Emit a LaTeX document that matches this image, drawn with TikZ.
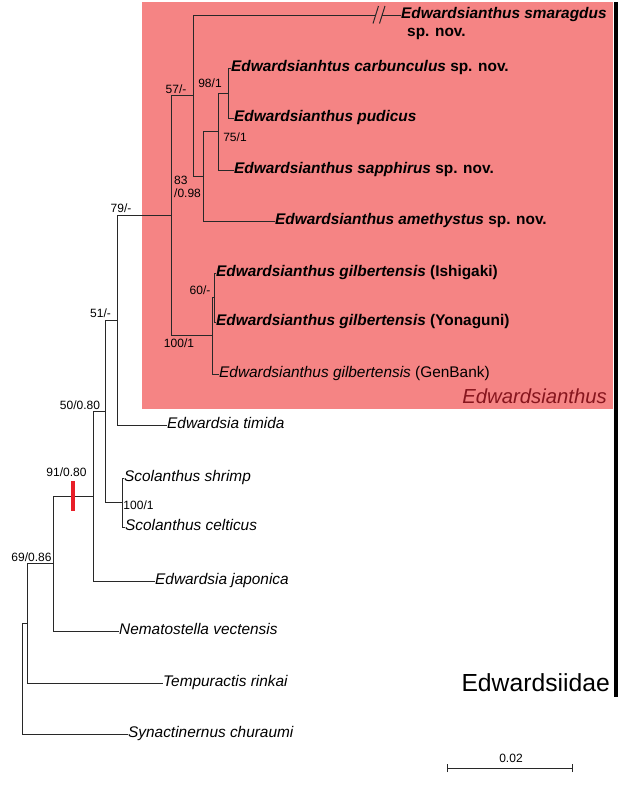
\documentclass[tikz,border=0pt]{standalone}
\usepackage{fontspec}
\setmainfont{Liberation Sans}
\definecolor{cladepink}{RGB}{245,132,132}
\definecolor{cladered}{RGB}{135,22,30}
\definecolor{branch}{RGB}{40,40,40}
\definecolor{synred}{RGB}{232,30,40}
\begin{document}
\begin{tikzpicture}[x=1pt,y=-1pt,
  br/.style={draw=branch,line width=1pt},
  leaf/.style={anchor=west,inner sep=0pt,text height=11pt,text depth=3.3pt,font=\fontsize{15.4}{17}\selectfont\itshape},
  newsp/.style={anchor=west,inner sep=0pt,text height=11pt,text depth=3.3pt,font=\fontsize{15.4}{17}\selectfont\bfseries},
  supp/.style={inner sep=0pt,text height=8.6pt,text depth=0pt,font=\fontsize{12}{14}\selectfont},
]
\useasboundingbox (0,0) rectangle (634,796);
\fill[white] (0,0) rectangle (634,796);
% clade box and bar
\fill[cladepink] (142,2) rectangle (613,409);
\fill[black] (613.5,2) rectangle (617.5,697);

% internal nodes
\coordinate (n98) at (228,93);
\coordinate (n75) at (218,131.5);
\coordinate (n83) at (203,176.25);
\coordinate (n57) at (193,95.6);
\coordinate (n60) at (214,297.5);
\coordinate (n100) at (212.5,335.75);
\coordinate (n79) at (171,215.7);
\coordinate (n51) at (117,320.3);
\coordinate (nS) at (122,502.5);
\coordinate (n50) at (105,411.4);
\coordinate (n91) at (93,496.2);
\coordinate (n69) at (53,563.6);
\coordinate (n27) at (27,623.3);
\coordinate (root) at (22,678.6);
\coordinate (brk1) at (376,15);
\coordinate (brk2) at (382,15);

% leaves
\node[newsp] (smar) at (401,15) {\itshape Edwardsianthus smaragdus};
\node[newsp] (smar2) at (407,33) {sp. nov.};
\node[newsp] (carb) at (231,68) {{\itshape Edwardsianhtus carbunculus} sp. nov.};
\node[newsp] (pud) at (234,118) {\itshape Edwardsianthus pudicus};
\node[newsp] (sapp) at (234,170) {{\itshape Edwardsianthus sapphirus} sp. nov.};
\node[newsp] (ameth) at (275,221) {{\itshape Edwardsianthus amethystus} sp. nov.};
\node[newsp] (ishi) at (216,273) {{\itshape Edwardsianthus gilbertensis} (Ishigaki)};
\node[newsp] (yona) at (216,322) {{\itshape Edwardsianthus gilbertensis} (Yonaguni)};
\node[leaf] (genb) at (219,374) {Edwardsianthus gilbertensis \upshape(GenBank)};
\node[leaf] (timi) at (167,425) {Edwardsia timida};
\node[leaf] (shri) at (124,478) {Scolanthus shrimp};
\node[leaf] (celt) at (125,527) {Scolanthus celticus};
\node[leaf] (japo) at (155,581) {Edwardsia japonica};
\node[leaf] (nema) at (119,631) {Nematostella vectensis};
\node[leaf] (temp) at (163,683) {Tempuractis rinkai};
\node[leaf] (syna) at (128,734) {Synactinernus churaumi};

% branches
\draw[br] (n57) |- (brk1);
\draw[br] (brk2) -- (smar.west);
\draw[br] ([shift={(-3,8.5)}]brk1) -- ([shift={(2.5,-9)}]brk1);
\draw[br] ([shift={(-2.5,8.5)}]brk2) -- ([shift={(3,-9)}]brk2);
\draw[br] (n98) |- (carb.west);
\draw[br] (n98) |- (pud.west);
\draw[br] (n75) |- (n98);
\draw[br] (n75) |- (sapp.west);
\draw[br] (n83) |- (n75);
\draw[br] (n83) |- (ameth.west);
\draw[br] (n57) |- (n83);
\draw[br] (n60) |- (ishi.west);
\draw[br] (n60) |- (yona.west);
\draw[br] (n100) |- (n60);
\draw[br] (n100) |- (genb.west);
\draw[br] (n79) |- (n57);
\draw[br] (n79) |- (n100);
\draw[br] (n51) |- (n79);
\draw[br] (n51) |- (timi.west);
\draw[br] (nS) |- (shri.west);
\draw[br] (nS) |- (celt.west);
\draw[br] (n50) |- (n51);
\draw[br] (n50) |- (nS);
\draw[br] (n91) |- (n50);
\draw[br] (n91) |- (japo.west);
\draw[br] (n69) |- (n91);
\draw[br] (n69) |- (nema.west);
\draw[br] (n27) |- (n69);
\draw[br] (n27) |- (temp.west);
\draw[br] (root) |- (n27);
\draw[br] (root) |- (syna.west);

% synapomorphy bar
\coordinate (rb1) at (73,481);
\coordinate (rb2) at (73,511);
\draw[synred,line width=4pt] (rb1) -- (rb2);

% support values
\node[supp] (s57) at (176,89) {57/-};
\node[supp] (s98) at (210,83) {98/1};
\node[supp] (s75) at (235,137) {75/1};
\node[supp,anchor=west] (s83a) at (174,180) {83};
\node[supp,anchor=west] (s83b) at (174,193) {/0.98};
\node[supp] (s60) at (200,290) {60/-};
\node[supp] (s100) at (179,343) {100/1};
\node[supp] (s79) at (121,208.5) {79/-};
\node[supp] (s51) at (100.5,313) {51/-};
\node[supp] (s50) at (80,405) {50/0.80};
\node[supp] (s91) at (66.5,472) {91/0.80};
\node[supp] (sS) at (138.5,505) {100/1};
\node[supp] (s69) at (31.5,557.5) {69/0.86};

% clade labels
\node[anchor=base east,inner sep=0pt,font=\fontsize{20.3}{24}\selectfont\itshape,text=cladered] (gen) at (607,403) {Edwardsianthus};
\node[anchor=base east,inner sep=0pt,font=\fontsize{24.7}{28}\selectfont] (fam) at (610,691) {Edwardsiidae};

% scale bar
\coordinate (sc1) at (447,768);
\coordinate (sc2) at (572,768);
\draw[br] (sc1) -- (sc2);
\draw[br] ([yshift=-4pt]sc1) -- ([yshift=4pt]sc1);
\draw[br] ([yshift=-4pt]sc2) -- ([yshift=4pt]sc2);
\node[supp] (scl) at (511,758) {0.02};
\end{tikzpicture}
\end{document}
